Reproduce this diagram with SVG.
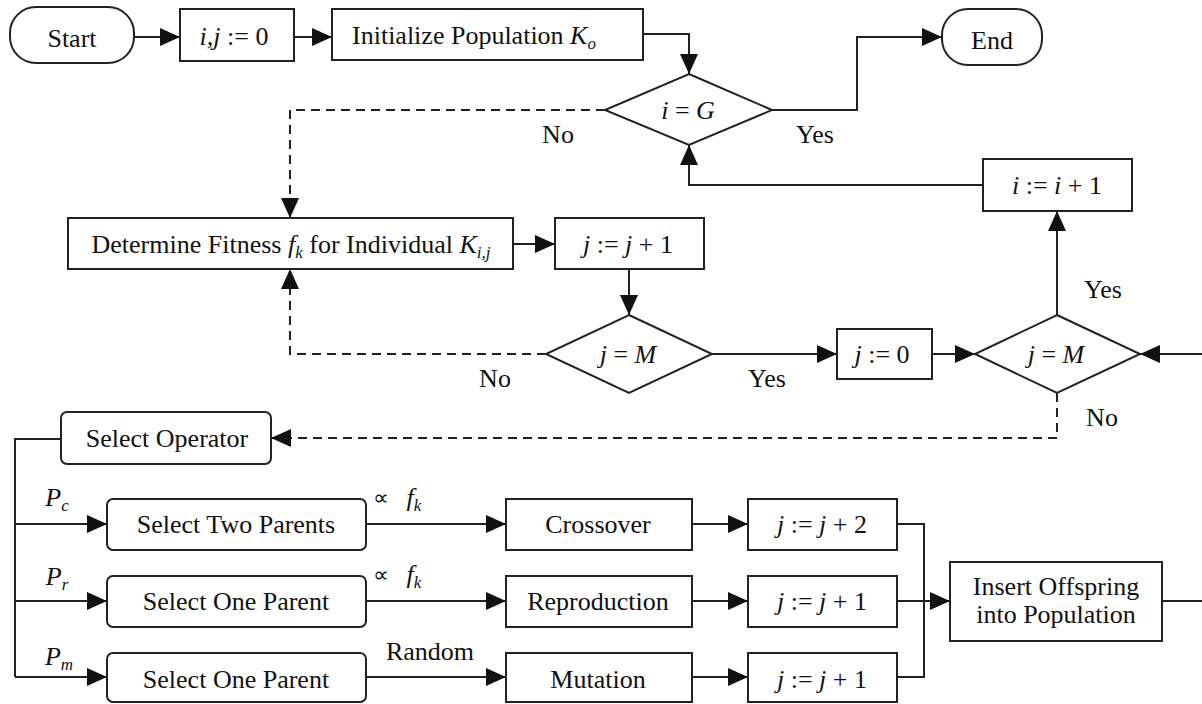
<svg xmlns="http://www.w3.org/2000/svg" width="1202" height="704" viewBox="0 0 1202 704">
<style>
*{font-family:'Liberation Serif',serif !important}
.b{fill:#fff;stroke:#222;stroke-width:2}
.l{fill:none;stroke:#222;stroke-width:2}
.d{fill:none;stroke:#222;stroke-width:2;stroke-dasharray:9,6}
.t{font-size:26px;fill:#111;text-anchor:middle}
.i{font-style:italic}
.s{font-size:17px}
text.sym{font-family:'DejaVu Sans',sans-serif !important;font-size:22px;fill:#111;text-anchor:middle}
</style>
<defs>
<marker id="a" markerUnits="userSpaceOnUse" markerWidth="20" markerHeight="18" refX="20" refY="9" orient="auto">
<path d="M0,0 L20,9 L0,18 z" fill="#111"/>
</marker>
</defs>
<rect width="1202" height="704" fill="#fff"/>
<g id="connectors">
<path class="l" d="M134,37 H180" marker-end="url(#a)"/>
<path class="l" d="M294,37 H332" marker-end="url(#a)"/>
<path class="l" d="M643,34 H689 V74" marker-end="url(#a)"/>
<path class="l" d="M772,110 H857 V37 H942" marker-end="url(#a)"/>
<path class="d" d="M605,110 H290 V218" marker-end="url(#a)"/>
<path class="l" d="M513,244 H555" marker-end="url(#a)"/>
<path class="l" d="M629,269 V315" marker-end="url(#a)"/>
<path class="d" d="M546,354 H290 V269" marker-end="url(#a)"/>
<path class="l" d="M712,354 H837" marker-end="url(#a)"/>
<path class="l" d="M932,354 H975" marker-end="url(#a)"/>
<path class="l" d="M1202,354 H1140" marker-end="url(#a)"/>
<path class="l" d="M1057,315 V211" marker-end="url(#a)"/>
<path class="l" d="M983,185 H689 V145" marker-end="url(#a)"/>
<path class="d" d="M1057,393 V438 H271" marker-end="url(#a)"/>
<path class="l" d="M61,439 H15 V677"/>
<path class="l" d="M15,524 H107" marker-end="url(#a)"/>
<path class="l" d="M15,601 H107" marker-end="url(#a)"/>
<path class="l" d="M15,677 H107" marker-end="url(#a)"/>
<path class="l" d="M366,524 H506" marker-end="url(#a)"/>
<path class="l" d="M366,601 H506" marker-end="url(#a)"/>
<path class="l" d="M366,677 H506" marker-end="url(#a)"/>
<path class="l" d="M692,524 H748" marker-end="url(#a)"/>
<path class="l" d="M692,601 H748" marker-end="url(#a)"/>
<path class="l" d="M692,677 H748" marker-end="url(#a)"/>
<path class="l" d="M897,524 H924 V677 H897"/>
<path class="l" d="M897,601 H950" marker-end="url(#a)"/>
<path class="l" d="M1162,601 H1202"/>
<text class="t" style="font-family:'Liberation Serif',serif !important" x="558" y="143">No</text>
<text class="t" style="font-family:'Liberation Serif',serif !important" x="815" y="143">Yes</text>
<text class="t" style="font-family:'Liberation Serif',serif !important" x="495" y="387">No</text>
<text class="t" style="font-family:'Liberation Serif',serif !important" x="767" y="387">Yes</text>
<text class="t" style="font-family:'Liberation Serif',serif !important" x="1103" y="298">Yes</text>
<text class="t" style="font-family:'Liberation Serif',serif !important" x="1102" y="426">No</text>
<text class="t" style="font-family:'Liberation Serif',serif !important" x="57" y="506"><tspan class="i">P</tspan><tspan class="i s" dy="5">c</tspan></text>
<text class="t" style="font-family:'Liberation Serif',serif !important" x="57" y="585"><tspan class="i">P</tspan><tspan class="i s" dy="5">r</tspan></text>
<text class="t" style="font-family:'Liberation Serif',serif !important" x="59" y="665"><tspan class="i">P</tspan><tspan class="i s" dy="5">m</tspan></text>
<text class="sym" style="font-family:'DejaVu Sans',sans-serif !important" x="381" y="505">∝</text>
<text class="t" style="font-family:'Liberation Serif',serif !important" x="414" y="506"><tspan class="i">f</tspan><tspan class="i s" dy="5">k</tspan></text>
<text class="sym" style="font-family:'DejaVu Sans',sans-serif !important" x="381" y="582">∝</text>
<text class="t" style="font-family:'Liberation Serif',serif !important" x="414" y="583"><tspan class="i">f</tspan><tspan class="i s" dy="5">k</tspan></text>
<text class="t" style="font-family:'Liberation Serif',serif !important" x="430" y="660">Random</text>
</g>
<g id="start"><rect class="b" x="10" y="7" width="124" height="56" rx="26"/><text class="t" style="font-family:'Liberation Serif',serif !important" x="72" y="47">Start</text></g>
<g id="init-ij"><rect class="b" x="180" y="9" width="114" height="52"/><text class="t" style="font-family:'Liberation Serif',serif !important" x="234" y="45"><tspan class="i">i,j</tspan> := 0</text></g>
<g id="init-pop"><rect class="b" x="332" y="9" width="311" height="51"/><text class="t" style="font-family:'Liberation Serif',serif !important" x="474" y="44">Initialize Population <tspan class="i">K</tspan><tspan class="i s" dy="5">o</tspan></text></g>
<g id="end"><rect class="b" x="942" y="9" width="100" height="56" rx="26"/><text class="t" style="font-family:'Liberation Serif',serif !important" x="992" y="49">End</text></g>
<g id="dec-iG"><polygon class="b" points="689,74 772,110 689,145 605,110"/><text class="t" style="font-family:'Liberation Serif',serif !important" x="688" y="119"><tspan class="i">i</tspan> = <tspan class="i">G</tspan></text></g>
<g id="inc-i"><rect class="b" x="983" y="159" width="149" height="52"/><text class="t" style="font-family:'Liberation Serif',serif !important" x="1057" y="194"><tspan class="i">i</tspan> := <tspan class="i">i</tspan> + 1</text></g>
<g id="fitness"><rect class="b" x="68" y="218" width="445" height="51"/><text class="t" style="font-family:'Liberation Serif',serif !important" x="291" y="253">Determine Fitness <tspan class="i">f</tspan><tspan class="i s" dy="5">k</tspan><tspan dy="-5"> for Individual </tspan><tspan class="i">K</tspan><tspan class="i s" dy="5">i,j</tspan></text></g>
<g id="inc-j"><rect class="b" x="555" y="218" width="149" height="51"/><text class="t" style="font-family:'Liberation Serif',serif !important" x="628" y="253"><tspan class="i">j</tspan> := <tspan class="i">j</tspan> + 1</text></g>
<g id="dec-jM1"><polygon class="b" points="629,315 712,354 629,393 546,354"/><text class="t" style="font-family:'Liberation Serif',serif !important" x="628" y="363"><tspan class="i">j</tspan> = <tspan class="i">M</tspan></text></g>
<g id="reset-j"><rect class="b" x="837" y="329" width="95" height="50"/><text class="t" style="font-family:'Liberation Serif',serif !important" x="882" y="363"><tspan class="i">j</tspan> := 0</text></g>
<g id="dec-jM2"><polygon class="b" points="1057,315 1140,354 1057,393 975,354"/><text class="t" style="font-family:'Liberation Serif',serif !important" x="1056" y="363"><tspan class="i">j</tspan> = <tspan class="i">M</tspan></text></g>
<g id="select-op"><rect class="b" x="61" y="412" width="210" height="52" rx="6"/><text class="t" style="font-family:'Liberation Serif',serif !important" x="167" y="447">Select Operator</text></g>
<g id="sel-two"><rect class="b" x="107" y="499" width="259" height="51" rx="6"/><text class="t" style="font-family:'Liberation Serif',serif !important" x="236" y="533">Select Two Parents</text></g>
<g id="sel-one1"><rect class="b" x="107" y="576" width="259" height="51" rx="6"/><text class="t" style="font-family:'Liberation Serif',serif !important" x="236" y="610">Select One Parent</text></g>
<g id="sel-one2"><rect class="b" x="107" y="653" width="259" height="49" rx="6"/><text class="t" style="font-family:'Liberation Serif',serif !important" x="236" y="688">Select One Parent</text></g>
<g id="crossover"><rect class="b" x="506" y="499" width="186" height="51"/><text class="t" style="font-family:'Liberation Serif',serif !important" x="598" y="533">Crossover</text></g>
<g id="reproduction"><rect class="b" x="506" y="576" width="186" height="51"/><text class="t" style="font-family:'Liberation Serif',serif !important" x="598" y="610">Reproduction</text></g>
<g id="mutation"><rect class="b" x="506" y="653" width="186" height="49"/><text class="t" style="font-family:'Liberation Serif',serif !important" x="598" y="688">Mutation</text></g>
<g id="inc-j2"><rect class="b" x="748" y="499" width="149" height="51"/><text class="t" style="font-family:'Liberation Serif',serif !important" x="822" y="533"><tspan class="i">j</tspan> := <tspan class="i">j</tspan> + 2</text></g>
<g id="inc-j1a"><rect class="b" x="748" y="576" width="149" height="51"/><text class="t" style="font-family:'Liberation Serif',serif !important" x="822" y="610"><tspan class="i">j</tspan> := <tspan class="i">j</tspan> + 1</text></g>
<g id="inc-j1b"><rect class="b" x="748" y="653" width="149" height="49"/><text class="t" style="font-family:'Liberation Serif',serif !important" x="822" y="688"><tspan class="i">j</tspan> := <tspan class="i">j</tspan> + 1</text></g>
<g id="insert"><rect class="b" x="950" y="562" width="212" height="79"/><text class="t" style="font-family:'Liberation Serif',serif !important" x="1056" y="595">Insert Offspring</text><text class="t" style="font-family:'Liberation Serif',serif !important" x="1056" y="623">into Population</text></g>
</svg>
